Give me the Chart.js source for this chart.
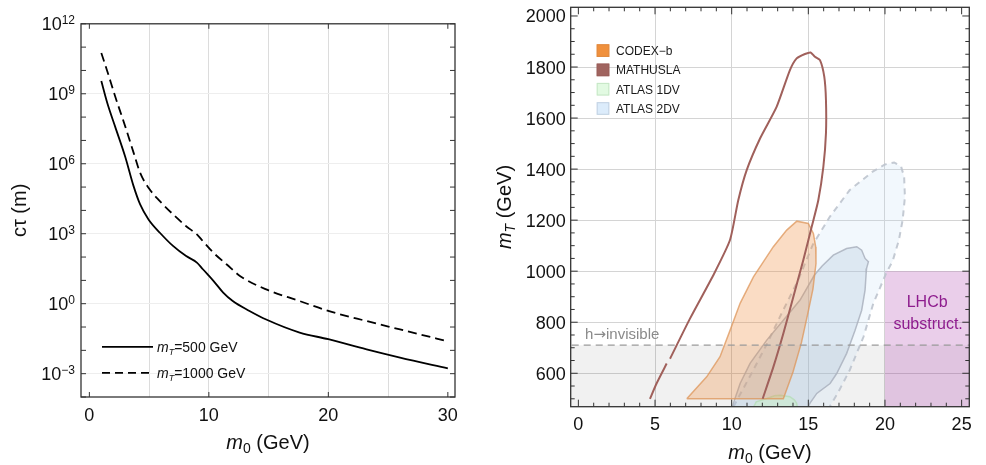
<!DOCTYPE html>
<html>
<head>
<meta charset="utf-8">
<title>Decay length and reach</title>
<script src="https://cdn.jsdelivr.net/npm/chart.js@4"></script>
<style>
  html, body { margin: 0; padding: 0; background: #fff; }
  #wrap { position: relative; width: 986px; height: 465px; }
  canvas { position: absolute; top: 0; }
  #lifetimeChart { left: 0; }
  #reachChart { left: 490px; }
</style>
</head>
<body>
<div id="wrap">
  <canvas id="lifetimeChart" width="490" height="465"></canvas>
  <canvas id="reachChart" width="496" height="465"></canvas>
</div>
<script>
// ============================================
// Two panels: c*tau vs m0, and collider reach in (m0, mT)
// ============================================

var FONT = '"Liberation Sans", Arial, Helvetica, sans-serif';

// ---- left panel data ----
var m0Light = [1.0, 1.5, 2.15, 3.0, 3.7, 4.25, 4.95, 5.9, 7.0, 8.1, 9.0, 9.5, 10.4, 11.2, 12.0, 13.4, 14.8, 17.6, 20, 23.2, 26, 30];
var ctLight = [3.5e9, 4e8, 4e7, 2e6, 1.1e5, 1.8e4, 4.1e3, 1.1e3, 300, 110, 58, 30, 9.3, 3.0, 1.3, 0.49, 0.21, 0.058, 0.030, 0.011, 0.0049, 0.0017];
var m0Heavy = [1.0, 1.5, 2.15, 3.0, 3.7, 4.25, 4.95, 5.9, 7.0, 8.1, 9.0, 9.5, 10.4, 11.5, 12.6, 14.8, 17.6, 20, 23.2, 26, 29.9];
var ctHeavy = [5.6e10, 9.3e9, 8e8, 4e7, 3e6, 4.1e5, 9.3e4, 2.5e4, 6.8e3, 2.1e3, 930, 480, 150, 48, 15.5, 4.1, 1.3, 0.49, 0.18, 0.079, 0.025];
var mTLabels = ['500 GeV', '1000 GeV'];

// left panel axes
var ctXTicks = [0, 10, 20, 30];
var ctXGrid = [5, 10, 15, 20, 25];
var ctDecades = [1e-4, 1e-3, 1e-2, 1e-1, 1, 10, 100, 1e3, 1e4, 1e5, 1e6, 1e7, 1e8, 1e9, 1e10, 1e11, 1e12];
var ctLabelValues = [1e-3, 1, 1e3, 1e6, 1e9, 1e12];
var ctLabelExps = ['\u22123', '0', '3', '6', '9', '12'];

// ---- right panel data (region outlines) ----
var hInvisibleMT = 710;
var grayM0 = [-2, 27, 27, -2];
var grayMT = [400, 400, 710, 710];
var lhcbM0 = [20, 27, 27, 20];
var lhcbMT = [400, 400, 1000, 1000];

var codexM0 = [7.07, 8.37, 9.24, 9.9, 10.55, 11.42, 12.72, 13.59, 14.25, 15.0, 15.33, 15.48, 15.5, 15.3, 14.95, 14.55, 14.0, 13.37, 7.07];
var codexMT = [500, 586, 665, 769, 874, 978, 1096, 1161, 1196, 1187, 1148, 1095, 1030, 930, 830, 720, 605, 500, 500];

var mathM0 = [4.67, 5.1, 5.76, 5.87, 5.98, 7.28, 8.8, 9.89, 10.43, 10.98, 11.85, 12.93, 13.8, 14.24, 14.78, 15.15, 15.43, 15.76, 16.04, 16.15, 16.15, 15.98, 15.65, 15.22, 14.67, 14.02, 13.37, 12.72, 12.02];
var mathMT = [500, 560, 638, null, 657, 814, 984, 1122, 1278, 1396, 1520, 1644, 1788, 1834, 1851, 1857, 1840, 1827, 1762, 1671, 1540, 1409, 1278, 1174, 1043, 899, 756, 625, 500];

var atlas1M0 = [11.2, 11.6, 12.29, 12.8, 13.16, 13.8, 14.1, 14.24, 14.35, 11.2];
var atlas1MT = [440, 488, 501, 512, 514, 508, 495, 482, 440, 440];

var atlas2OuterM0 = [9.8, 10.3, 11.3, 12.3, 13.3, 14.3, 15.3, 16.4, 17.7, 19.2, 20.0, 20.6, 21.05, 21.25, 21.3, 21.15, 20.9, 20.5, 20.1, 19.24, 18.6, 17.7, 16.9, 16.4, 16.0, 9.8];
var atlas2OuterMT = [430, 490, 600, 715, 840, 960, 1105, 1213, 1318, 1390, 1418, 1426, 1410, 1370, 1290, 1200, 1120, 1040, 995, 874, 743, 612, 520, 470, 430, 430];

var atlas2InnerM0 = [9.95, 10.11, 10.55, 11.2, 12.29, 13.37, 14.46, 15.4, 15.9, 16.63, 17.5, 18.16, 18.48, 18.7, 18.92, 18.8, 18.77, 18.7, 18.48, 18.05, 17.5, 16.85, 16.42, 15.55, 15.1, 14.8, 9.95];
var atlas2InnerMT = [440, 482, 560, 639, 730, 808, 887, 985, 1020, 1063, 1089, 1096, 1082, 1050, 1037, 1011, 990, 926, 847, 769, 678, 599, 560, 521, 482, 440, 440];

var reachNames = ['CODEX\u2212b', 'MATHUSLA', 'ATLAS 1DV', 'ATLAS 2DV'];
var reachSwatch = ['#f0903c', '#a0645f', '#e2fae2', '#dcecfb'];
var reachSwatchEdge = ['#e08a40', '#9a5e5a', '#c6e6c6', '#c2d2e2'];

// right panel axes
var reachXMajor = [0, 5, 10, 15, 20, 25];
var reachXGrid = [5, 10, 15, 20];
var reachYMajor = [600, 800, 1000, 1200, 1400, 1600, 1800, 2000];
var reachYGrid = [600, 800, 1000, 1200, 1400, 1600, 1800];

function pts(xs, ys) {
  return xs.map(function(x, i) { return { x: x, y: ys[i] }; });
}

// draw a run of text pieces with different fonts / offsets
function richText(ctx, parts, x, y, align) {
  var w = 0;
  parts.forEach(function(p) { ctx.font = p.f; w += ctx.measureText(p.t).width; });
  var cx = align === 'center' ? x - w / 2 : (align === 'right' ? x - w : x);
  ctx.textAlign = 'left';
  ctx.textBaseline = 'alphabetic';
  parts.forEach(function(p) {
    ctx.font = p.f;
    ctx.fillText(p.t, cx, y + (p.dy || 0));
    cx += ctx.measureText(p.t).width;
  });
}

function tickLine(ctx, x1, y1, x2, y2) {
  ctx.beginPath(); ctx.moveTo(x1, y1); ctx.lineTo(x2, y2); ctx.stroke();
}

Chart.defaults.font.family = FONT;

// ---------- left panel ----------
var lifetimeDecor = {
  id: 'lifetimeDecor',
  afterDraw: function(chart) {
    var ctx = chart.ctx, a = chart.chartArea;
    var xs = chart.scales.x, ys = chart.scales.y;
    ctx.save();
    ctx.strokeStyle = '#333';
    ctx.lineWidth = 1;
    ctXTicks.forEach(function(v) {
      var px = xs.getPixelForValue(v);
      tickLine(ctx, px, a.bottom, px, a.bottom - 5);
      tickLine(ctx, px, a.top, px, a.top + 5);
    });
    ctDecades.forEach(function(v) {
      var py = ys.getPixelForValue(v);
      tickLine(ctx, a.left, py, a.left + 5, py);
      tickLine(ctx, a.right, py, a.right - 5, py);
    });
    ctx.lineWidth = 1.3;
    ctx.strokeRect(a.left, a.top, a.right - a.left, a.bottom - a.top);

    // tick labels
    ctx.fillStyle = '#111';
    ctXTicks.forEach(function(v) {
      richText(ctx, [{ t: String(v), f: '18px ' + FONT }], xs.getPixelForValue(v), a.bottom + 23.5, 'center');
    });
    ctLabelValues.forEach(function(v, i) {
      var py = ys.getPixelForValue(v);
      richText(ctx, [{ t: '10', f: '18px ' + FONT, dy: 6.3 }, { t: ctLabelExps[i], f: '12px ' + FONT, dy: 0.3 }], a.left - 6, py, 'right');
    });

    // axis titles
    richText(ctx, [{ t: 'm', f: 'italic 20px ' + FONT }, { t: '0', f: '14px ' + FONT, dy: 4 }, { t: ' (GeV)', f: '20px ' + FONT }],
      (a.left + a.right) / 2, 449, 'center');
    ctx.save();
    ctx.translate(25.5, (a.top + a.bottom) / 2);
    ctx.rotate(-Math.PI / 2);
    richText(ctx, [{ t: 'c\u03c4 (m)', f: '20px ' + FONT }], 0, 0, 'center');
    ctx.restore();

    // legend
    ctx.strokeStyle = '#000';
    ctx.lineWidth = 1.8;
    var lx = a.left + 21, ly = a.top + 323;
    tickLine(ctx, lx, ly, lx + 51, ly);
    ctx.setLineDash([8, 5]);
    tickLine(ctx, lx, ly + 26, lx + 51, ly + 26);
    ctx.setLineDash([]);
    mTLabels.forEach(function(lbl, i) {
      richText(ctx, [{ t: 'm', f: 'italic 14px ' + FONT }, { t: 'T', f: 'italic 9px ' + FONT, dy: 3 }, { t: '=' + lbl, f: '14px ' + FONT }],
        lx + 55, ly + 26 * i + 5, 'left');
    });
    ctx.restore();
  }
};

new Chart(document.getElementById('lifetimeChart'), {
  type: 'line',
  data: {
    datasets: [
      { label: 'mT=500 GeV', data: pts(m0Light, ctLight), borderColor: '#000', borderWidth: 1.8, pointRadius: 0, fill: false, cubicInterpolationMode: 'monotone' },
      { label: 'mT=1000 GeV', data: pts(m0Heavy, ctHeavy), borderColor: '#000', borderWidth: 1.8, borderDash: [9, 5], pointRadius: 0, fill: false, cubicInterpolationMode: 'monotone' }
    ]
  },
  options: {
    responsive: false,
    animation: false,
    layout: { padding: { left: 81, right: 35, top: 23.8, bottom: 68 } },
    plugins: { legend: { display: false }, tooltip: { enabled: false } },
    scales: {
      x: {
        type: 'linear', min: -0.7, max: 30.6,
        afterBuildTicks: function(s) { s.ticks = ctXGrid.map(function(v) { return { value: v }; }); },
        ticks: { display: false },
        grid: { color: '#dcdcdc', drawTicks: false },
        border: { display: false }
      },
      y: {
        type: 'logarithmic', min: 1e-4, max: 1e12,
        afterBuildTicks: function(s) { s.ticks = ctLabelValues.slice(0, 5).map(function(v) { return { value: v }; }); },
        ticks: { display: false },
        grid: { color: '#eeeeee', drawTicks: false },
        border: { display: false }
      }
    }
  },
  plugins: [lifetimeDecor]
});

// ---------- right panel ----------
var reachDecor = {
  id: 'reachDecor',
  afterDraw: function(chart) {
    var ctx = chart.ctx, a = chart.chartArea;
    var xs = chart.scales.x, ys = chart.scales.y;
    ctx.save();

    // region annotations
    ctx.fillStyle = '#8a8a8a';
    richText(ctx, [{ t: 'h', f: '15px ' + FONT }, { t: '\u2192', f: '15px "DejaVu Sans", ' + FONT }, { t: 'invisible', f: '15px ' + FONT }],
      xs.getPixelForValue(0.44), ys.getPixelForValue(hInvisibleMT) - 6.5, 'left');
    ctx.fillStyle = '#8e1c8e';
    var lc = (xs.getPixelForValue(lhcbM0[0]) + a.right) / 2;
    var ly = ys.getPixelForValue(lhcbMT[2]);
    richText(ctx, [{ t: 'LHCb', f: '16px ' + FONT }], lc, ly + 35.4, 'center');
    richText(ctx, [{ t: 'substruct.', f: '16px ' + FONT }], lc + 1, ly + 57.7, 'center');

    // ticks and frame
    ctx.strokeStyle = '#333';
    ctx.lineWidth = 1;
    for (var v = 0; v <= 25; v++) {
      var len = reachXMajor.indexOf(v) >= 0 ? 7 : 4;
      var px = xs.getPixelForValue(v);
      tickLine(ctx, px, a.bottom, px, a.bottom - len);
      tickLine(ctx, px, a.top, px, a.top + len);
    }
    for (var m = 500; m <= 2000; m += 50) {
      var l2 = reachYMajor.indexOf(m) >= 0 ? 7 : 4;
      var py = ys.getPixelForValue(m);
      tickLine(ctx, a.left, py, a.left + l2, py);
      tickLine(ctx, a.right, py, a.right - l2, py);
    }
    ctx.lineWidth = 1.3;
    ctx.strokeRect(a.left, a.top, a.right - a.left, a.bottom - a.top);

    // tick labels
    ctx.fillStyle = '#111';
    reachXMajor.forEach(function(v) {
      richText(ctx, [{ t: String(v), f: '18px ' + FONT }], xs.getPixelForValue(v), a.bottom + 23.5, 'center');
    });
    reachYMajor.forEach(function(v) {
      richText(ctx, [{ t: String(v), f: '18px ' + FONT }], a.left - 5, ys.getPixelForValue(v) + 6.5, 'right');
    });

    // axis titles
    richText(ctx, [{ t: 'm', f: 'italic 20px ' + FONT }, { t: '0', f: '14px ' + FONT, dy: 4 }, { t: ' (GeV)', f: '20px ' + FONT }],
      (a.left + a.right) / 2, 459, 'center');
    ctx.save();
    ctx.translate(21, (a.top + a.bottom) / 2);
    ctx.rotate(-Math.PI / 2);
    richText(ctx, [{ t: 'm', f: 'italic 20px ' + FONT }, { t: 'T', f: 'italic 14px ' + FONT, dy: 4 }, { t: ' (GeV)', f: '20px ' + FONT }], 0, 0, 'center');
    ctx.restore();

    // legend
    reachNames.forEach(function(name, i) {
      var sx = a.left + 26, sy = a.top + 37 + 19.3 * i;
      ctx.fillStyle = reachSwatch[i];
      ctx.fillRect(sx, sy, 12.6, 12.6);
      ctx.strokeStyle = reachSwatchEdge[i];
      ctx.lineWidth = 1;
      ctx.strokeRect(sx + 0.5, sy + 0.5, 11.6, 11.6);
      ctx.fillStyle = '#1a1a1a';
      richText(ctx, [{ t: name, f: '12px ' + FONT }], sx + 19.3, sy + 10.8, 'left');
    });
    ctx.restore();
  }
};

new Chart(document.getElementById('reachChart'), {
  type: 'line',
  data: {
    datasets: [
      { label: 'h->invisible', data: pts(grayM0, grayMT), order: 10, fill: 'shape', backgroundColor: 'rgba(0,0,0,0.055)', borderWidth: 0, pointRadius: 0, clip: 0 },
      { label: 'LHCb', data: pts(lhcbM0, lhcbMT), order: 9, fill: 'shape', backgroundColor: 'rgba(170,60,170,0.25)', borderWidth: 0, pointRadius: 0, clip: 0 },
      { label: 'ATLAS 2DV outer', data: pts(atlas2OuterM0, atlas2OuterMT), order: 8, fill: 'shape', backgroundColor: 'rgba(190,220,245,0.2)', borderColor: 'rgba(190,196,206,0.9)', borderWidth: 2, borderDash: [6, 5], pointRadius: 0, clip: 0 },
      { label: 'ATLAS 2DV', data: pts(atlas2InnerM0, atlas2InnerMT), order: 7, fill: 'shape', backgroundColor: 'rgba(160,185,210,0.25)', borderColor: 'rgba(170,178,190,0.85)', borderWidth: 1.5, pointRadius: 0, clip: 0 },
      { label: 'ATLAS 1DV', data: pts(atlas1M0, atlas1MT), order: 6, fill: 'shape', backgroundColor: 'rgba(200,240,200,0.5)', borderColor: 'rgba(185,222,190,0.9)', borderWidth: 1.5, pointRadius: 0, clip: 0 },
      { label: 'CODEX-b', data: pts(codexM0, codexMT), order: 5, fill: 'shape', backgroundColor: 'rgba(240,140,60,0.3)', borderColor: 'rgba(222,150,90,0.75)', borderWidth: 1.5, pointRadius: 0, clip: 0 },
      { label: 'MATHUSLA', data: pts(mathM0, mathMT), order: 4, fill: false, borderColor: '#a0605b', borderWidth: 2, pointRadius: 0, tension: 0.2 },
      { label: 'h->invisible line', data: pts([-2, 27], [hInvisibleMT, hInvisibleMT]), order: 3, fill: false, borderColor: '#9a9a9a', borderWidth: 1.3, borderDash: [7, 5], pointRadius: 0 }
    ]
  },
  options: {
    responsive: false,
    animation: false,
    layout: { padding: { left: 80.7, right: 16.7, top: 7.3, bottom: 58.3 } },
    plugins: { legend: { display: false }, tooltip: { enabled: false } },
    scales: {
      x: {
        type: 'linear', min: -0.5, max: 25.5,
        afterBuildTicks: function(s) { s.ticks = reachXGrid.map(function(v) { return { value: v }; }); },
        ticks: { display: false },
        grid: { color: '#d4d4d4', drawTicks: false },
        border: { display: false }
      },
      y: {
        type: 'linear', min: 469, max: 2034,
        afterBuildTicks: function(s) { s.ticks = reachYGrid.map(function(v) { return { value: v }; }); },
        ticks: { display: false },
        grid: { color: '#d4d4d4', drawTicks: false },
        border: { display: false }
      }
    }
  },
  plugins: [reachDecor]
});
</script>
</body>
</html>
